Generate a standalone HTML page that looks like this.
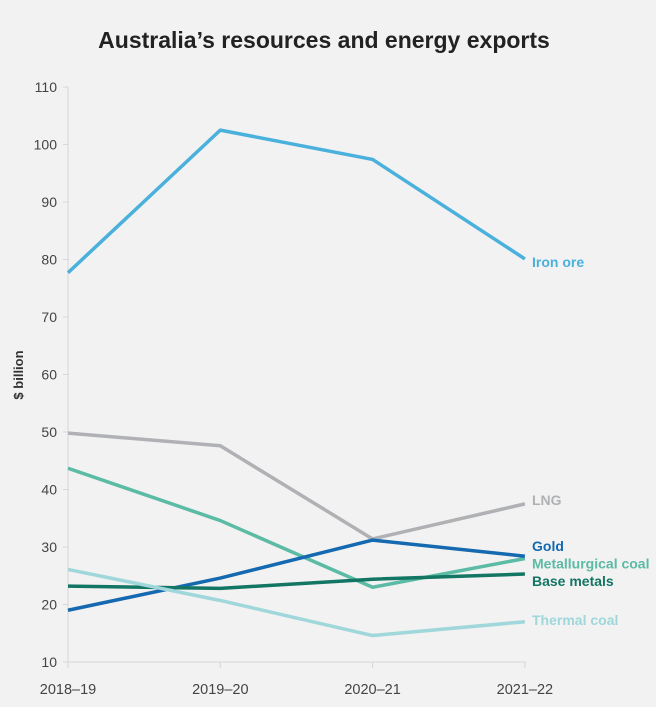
<!DOCTYPE html>
<html><head><meta charset="utf-8"><style>
body{margin:0;background:#f2f2f2;}
svg{display:block;font-family:"Liberation Sans",Arial,sans-serif;}
</style></head><body>
<svg id="c" width="656" height="707">
<text x="324" y="48" text-anchor="middle" font-size="23" font-weight="bold" fill="#222">Australia’s resources and energy exports</text>
<text transform="translate(23,375) rotate(-90)" text-anchor="middle" font-size="13" font-weight="bold" fill="#333">$ billion</text>
<g id="axes"></g><g id="lines"></g>
</svg>
<script>
const categories=["2018–19","2019–20","2020–21","2021–22"];
const yTicks=[10,20,30,40,50,60,70,80,90,100,110];
const seriesNames=["Iron ore","LNG","Metallurgical coal","Gold","Base metals","Thermal coal"];
const ironOre=[77.7,102.5,97.4,80.1];
const lng=[49.8,47.6,31.4,37.5];
const metCoal=[43.7,34.6,23.0,28.0];
const gold=[19.0,24.6,31.2,28.4];
const baseMetals=[23.2,22.8,24.4,25.3];
const thermalCoal=[26.1,20.7,14.6,17.0];
const colors=["#4ab0dc","#b0b1b4","#5bbba4","#1469b0","#137564","#9fd7db"];
const labelDy=[8,1,10,-5,12,3];
const data=[ironOre,lng,metCoal,gold,baseMetals,thermalCoal];
const NS="http://www.w3.org/2000/svg";
const xs=i=>68+i*152.3;
const ys=v=>662-(v-10)*5.75;
function mk(t,a,p){const e=document.createElementNS(NS,t);for(const k in a)e.setAttribute(k,a[k]);p.appendChild(e);return e;}
const ax=document.getElementById('axes');
const yl=mk('line',{x1:68,x2:68,y1:87,y2:662,stroke:'#d6d6d6','stroke-width':1},ax);


const xl=mk('line',{x1:68,x2:526,y1:662,y2:662,stroke:'#d6d6d6','stroke-width':1},ax);


yTicks.forEach(v=>{
  mk('line',{x1:63,x2:68,y1:ys(v),y2:ys(v),stroke:'#d6d6d6'},ax);
  const t=mk('text',{x:57,y:ys(v)+5,'text-anchor':'end','font-size':14,fill:'#444'},ax);
  t.textContent=v;
  
  
});
categories.forEach((c,i)=>{
  mk('line',{x1:xs(i),x2:xs(i),y1:662,y2:668,stroke:'#d6d6d6'},ax);
  const t=mk('text',{x:xs(i),y:694,'text-anchor':'middle','font-size':14.5,fill:'#444'},ax);
  t.textContent=c;
  
  
});
const lg=document.getElementById('lines');
data.forEach((s,k)=>{
  const p=mk('polyline',{points:s.map((v,i)=>xs(i)+','+ys(v)).join(' '),fill:'none',stroke:colors[k],'stroke-width':3.5,'stroke-linejoin':'round'},lg);
  
  
  const t=mk('text',{x:532,y:ys(s[s.length-1])+labelDy[k],'font-size':14,'font-weight':'bold',fill:colors[k]},lg);
  t.textContent=seriesNames[k];
  
  
});
</script>
</body></html>
